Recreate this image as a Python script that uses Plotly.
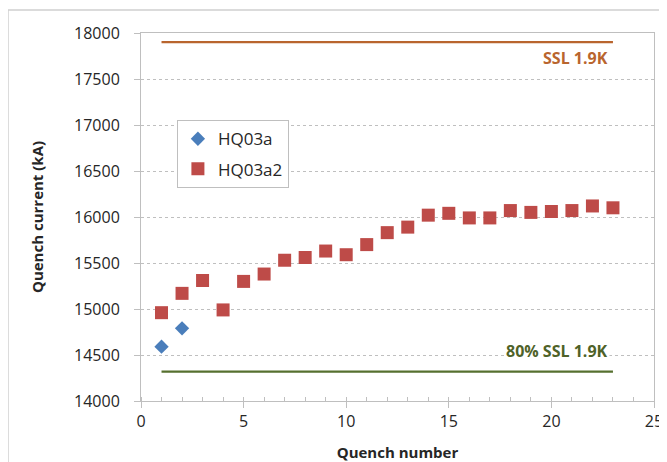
import plotly.graph_objects as go

quench_a = [1, 2]
current_a = [14590, 14790]

quench_a2 = list(range(1, 24))
current_a2 = [14960, 15170, 15310, 14990, 15300, 15380, 15530, 15560, 15630, 15590,
              15700, 15830, 15890, 16020, 16040, 15990, 15990, 16070, 16050, 16060,
              16070, 16120, 16100]

ssl_x = [1, 23]
ssl_y = [17900, 17900]
ssl80_y = [14320, 14320]

fig = go.Figure()
fig.add_trace(go.Scatter(x=ssl_x, y=ssl_y, mode="lines", line=dict(color="#B9652E", width=2.2),
                         showlegend=False, hoverinfo="skip"))
fig.add_trace(go.Scatter(x=ssl_x, y=ssl80_y, mode="lines", line=dict(color="#56702F", width=2.2),
                         showlegend=False, hoverinfo="skip"))
fig.add_trace(go.Scatter(x=quench_a, y=current_a, mode="markers", name="HQ03a", legendgroup="a",
                         marker=dict(symbol="diamond", size=11, color="#4A7EBB")))
fig.add_trace(go.Scatter(x=quench_a2, y=current_a2, mode="markers", name="HQ03a2", legendgroup="b",
                         marker=dict(symbol="square", size=13, color="#BE4B48")))

fig.update_layout(
    width=659, height=454,
    margin=dict(l=133, r=13, t=25, b=61),
    paper_bgcolor="white", plot_bgcolor="white",
    font=dict(family="Open Sans, sans-serif", color="#262626", size=15),
    showlegend=True,
    legend=dict(x=0.07, y=0.763, xanchor="left", yanchor="top",
                bordercolor="#BFBFBF", borderwidth=1, bgcolor="white",
                font=dict(size=17, color="#262626"), tracegroupgap=5,
                itemwidth=30),
    xaxis=dict(range=[0, 25], dtick=5, showgrid=False, zeroline=False, automargin=False,
               showline=True, linecolor="#BFBFBF", linewidth=1, mirror=True,
               ticks="outside", ticklen=6, tickcolor="#BFBFBF",
               minor=dict(dtick=1, ticks="inside", ticklen=4, tickcolor="#BFBFBF"),
               title=dict(text="<b>Quench number</b>", font=dict(size=15), standoff=16),
               tickfont=dict(size=16)),
    yaxis=dict(range=[14000, 18000], dtick=500, tickformat="d", showgrid=True, gridcolor="#BFBFBF",
               griddash="dot", zeroline=False, automargin=False,
               showline=True, linecolor="#BFBFBF", linewidth=1, mirror=True,
               ticks="outside", ticklen=6, tickcolor="#BFBFBF", ticklabelstandoff=11,
               title=dict(text="<b>Quench current (kA)</b>", font=dict(size=15), standoff=26),
               tickfont=dict(size=16)),
    annotations=[
        dict(x=23, y=17730, xref="x", yref="y", text="<b>SSL 1.9K</b>", showarrow=False,
             xanchor="right", xshift=-3, font=dict(size=16, color="#B9652E")),
        dict(x=23, y=14543, xref="x", yref="y", text="<b>80% SSL 1.9K</b>", showarrow=False,
             xanchor="right", xshift=-3, font=dict(size=16, color="#4F6228"), bgcolor="white"),
    ],
    shapes=[dict(type="rect", xref="paper", yref="paper", x0=-0.2593, x1=1.04, y0=-0.2, y1=1.0625,
                 line=dict(color="#D0D0D0", width=1.5), fillcolor="rgba(0,0,0,0)", layer="below")],
)

fig.write_html("out.html")
